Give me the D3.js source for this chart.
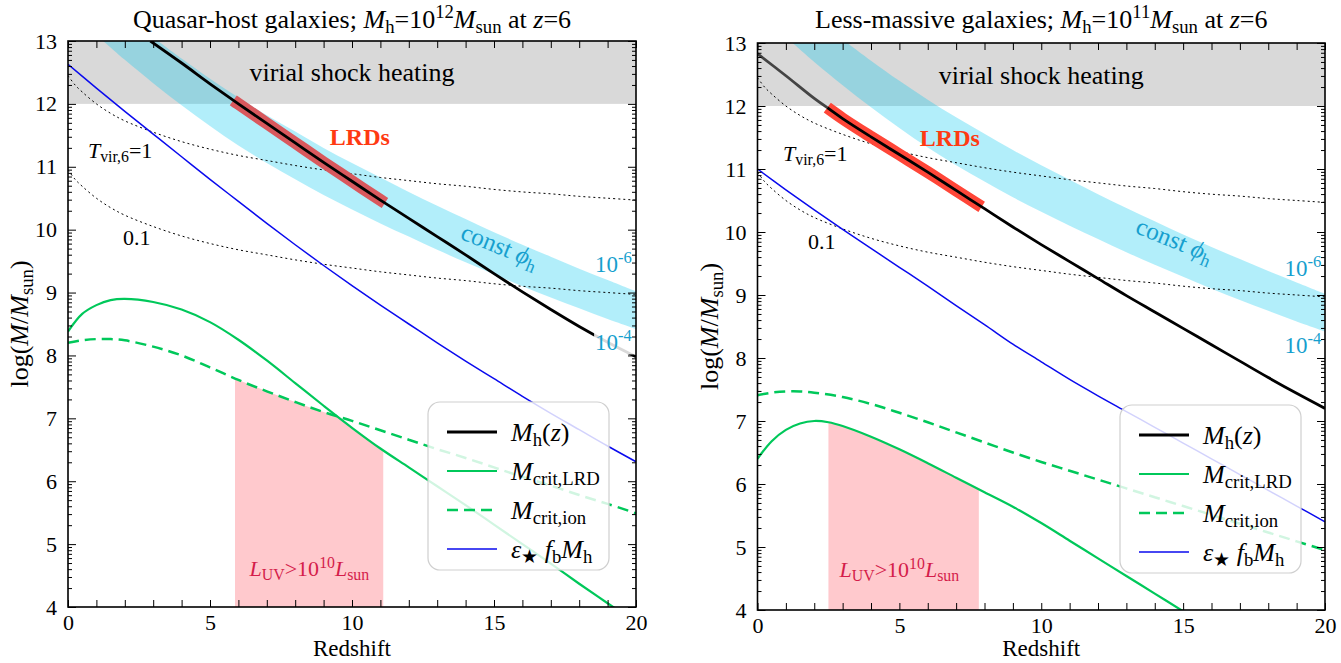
<!DOCTYPE html>
<html>
<head>
<meta charset="utf-8">
<script src="https://cdn.jsdelivr.net/npm/d3@7"></script>
<style>
  body { margin: 0; background: #fff; }
  svg { display: block; }
  text { font-family: "Liberation Serif", "Times New Roman", serif; }
</style>
</head>
<body>
<svg id="fig" width="1341" height="663"></svg>
<script>
// ---- data (z, log M) ----
// shared curves
const tvir1 = [[0,12.45],[0.25,12.3],[0.5,12.19],[1,12.0],[1.5,11.85],[2,11.73],[3,11.55],[4,11.4],[5,11.28],[6,11.18],[7,11.1],[8,11.02],[9,10.95],[10,10.89],[11,10.83],[12,10.78],[13,10.73],[14,10.69],[15,10.64],[16,10.6],[17,10.57],[18,10.53],[19,10.5],[20,10.47]];
const tvir01 = [[0,10.95],[0.25,10.8],[0.5,10.69],[1,10.5],[1.5,10.35],[2,10.23],[3,10.05],[4,9.9],[5,9.78],[6,9.68],[7,9.6],[8,9.52],[9,9.45],[10,9.39],[11,9.33],[12,9.28],[13,9.23],[14,9.19],[15,9.14],[16,9.1],[17,9.07],[18,9.03],[19,9.0],[20,8.97]];
const phiUpper = [[3.17,13.0],[4,12.72],[5,12.4],[6,12.1],[7,11.82],[8,11.56],[9,11.3],[10,11.06],[11,10.83],[12,10.6],[13,10.38],[14,10.17],[15,9.96],[16,9.76],[17,9.57],[18,9.38],[19,9.2],[20,9.02]];
const phiLower = [[1.24,13.0],[2,12.7],[3,12.33],[4,11.98],[5,11.65],[6,11.34],[7,11.06],[8,10.8],[9,10.55],[10,10.32],[11,10.1],[12,9.89],[13,9.68],[14,9.48],[15,9.29],[16,9.1],[17,8.92],[18,8.75],[19,8.58],[20,8.42]];

// quasar hosts, Mh = 1e12 at z = 6
const qsoHalo = [[2.9,13.0],[4,12.65],[5,12.32],[6,12.0],[7,11.69],[8,11.38],[9,11.07],[10,10.77],[11,10.47],[12,10.18],[13,9.89],[14,9.6],[15,9.3],[16,9.01],[17,8.73],[18,8.46],[19,8.21],[20,7.98]];
const qsoStar = [[0,12.63],[1,12.25],[2,11.88],[3,11.52],[4,11.16],[5,10.8],[6,10.45],[7,10.1],[8,9.76],[9,9.43],[10,9.11],[11,8.8],[12,8.5],[13,8.2],[14,7.91],[15,7.63],[16,7.35],[17,7.08],[18,6.82],[19,6.56],[20,6.31]];
const qsoCritLRD = [[0,8.38],[0.5,8.66],[1,8.8],[1.5,8.88],[2,8.9],[3,8.85],[4,8.73],[5,8.53],[6,8.25],[7,7.92],[8,7.56],[9,7.2],[10,6.85],[11,6.52],[12,6.22],[13,5.92],[14,5.62],[15,5.31],[16,5.0],[17,4.69],[18,4.37],[19,4.06],[20,3.75]];
const qsoCritIon = [[0,8.2],[0.5,8.24],[1,8.26],[1.5,8.26],[2,8.24],[3,8.14],[4,8.0],[5,7.81],[6,7.61],[7,7.43],[8,7.26],[9,7.1],[10,6.96],[11,6.81],[12,6.66],[13,6.51],[14,6.37],[15,6.22],[16,6.07],[17,5.93],[18,5.78],[19,5.64],[20,5.49]];
const qsoLRDRange = [5.82, 11.16];
const qsoBrightRange = [5.88, 11.1];

// less-massive galaxies, Mh = 1e11 at z = 6
const lowHalo = [[0,12.83],[1,12.48],[2,12.12],[3,11.8],[4,11.51],[5,11.23],[6,10.95],[7,10.66],[8,10.37],[9,10.08],[10,9.8],[11,9.53],[12,9.26],[13,8.99],[14,8.73],[15,8.47],[16,8.21],[17,7.95],[18,7.69],[19,7.44],[20,7.2]];
const lowStar = [[0,11.0],[1,10.67],[2,10.35],[3,10.04],[4,9.74],[5,9.44],[6,9.14],[7,8.83],[8,8.53],[9,8.22],[10,7.94],[11,7.66],[12,7.4],[13,7.15],[14,6.9],[15,6.65],[16,6.4],[17,6.15],[18,5.9],[19,5.65],[20,5.4]];
const lowCritLRD = [[0,6.4],[0.5,6.68],[1,6.86],[1.5,6.96],[2,7.0],[2.5,6.98],[3,6.92],[4,6.75],[5,6.55],[6,6.33],[7,6.1],[8,5.87],[9,5.64],[10,5.38],[11,5.1],[12,4.82],[13,4.54],[14,4.26],[15,3.98]];
const lowCritIon = [[0,7.41],[0.5,7.45],[1,7.47],[1.5,7.47],[2,7.45],[3,7.38],[4,7.27],[5,7.13],[6,6.98],[7,6.82],[8,6.66],[9,6.5],[10,6.35],[11,6.21],[12,6.07],[13,5.93],[14,5.79],[15,5.65],[16,5.51],[17,5.37],[18,5.23],[19,5.09],[20,4.95]];
const lowLRDRange = [2.46, 7.9];
const lowBrightRange = [2.5, 7.8];

const xTicks = d3.range(0, 21);
const yTicks = d3.range(4, 14);

const colors = {
  shock: '#d9d9d9', phi: '#00c8f0', phiText: '#169fce', pink: '#ffc9cd',
  pinkText: '#d41c4a', green: '#00c85a', blue: '#0a0aee', lrdText: '#ff3a12'
};

const svg = d3.select('#fig');
const defs = svg.append('defs');

// text with italic / sub / sup pieces: [str, kind]  kind: i, _, ^, i_
function rich(sel, parts, size) {
  parts.forEach(p => {
    const [str, kind] = typeof p === 'string' ? [p, ''] : p;
    const t = sel.append('tspan').text(str);
    if (kind.includes('i')) t.attr('font-style', 'italic');
    if (kind.includes('_')) t.attr('font-size', size * 0.72).attr('baseline-shift', -size * 0.2);
    if (kind.includes('^')) t.attr('font-size', size * 0.72).attr('baseline-shift', size * 0.38);
  });
  return sel;
}

function interp(series, z) {
  for (let i = 0; i < series.length - 1; i++) {
    const [z0, v0] = series[i], [z1, v1] = series[i + 1];
    if (z >= z0 && z <= z1) return v0 + (v1 - v0) * (z - z0) / (z1 - z0);
  }
  return series[series.length - 1][1];
}

function slice(series, z0, z1) {
  return [[z0, interp(series, z0)], ...series.filter(d => d[0] > z0 && d[0] < z1), [z1, interp(series, z1)]];
}

function drawPanel(p) {
  const x = d3.scaleLinear().domain([0, 20]).range([p.left, p.right]);
  const y = d3.scaleLinear().domain([4, 13]).range([p.bottom, p.top]);
  const line = d3.line().x(d => x(d[0])).y(d => y(d[1])).curve(d3.curveCatmullRom);
  const under = s => line(s) + `L${x(s[s.length - 1][0])},${p.bottom + 5}L${x(s[0][0])},${p.bottom + 5}Z`;

  defs.append('clipPath').attr('id', 'clip-' + p.id).append('rect')
    .attr('x', p.left).attr('y', p.top).attr('width', p.right - p.left).attr('height', p.bottom - p.top);
  defs.append('clipPath').attr('id', 'ion-' + p.id).append('path').attr('d', under(p.critIon));
  defs.append('clipPath').attr('id', 'lrd-' + p.id).append('path').attr('d', under(p.critLRD));

  const g = svg.append('g');
  const plot = g.append('g').attr('clip-path', `url(#clip-${p.id})`);

  // virial shock heating region
  plot.append('rect')
    .attr('x', x(0)).attr('y', y(13)).attr('width', x(20) - x(0)).attr('height', y(12) - y(13))
    .attr('fill', colors.shock);

  // const phi_h band
  plot.append('path')
    .attr('d', line(phiUpper) + 'L' + line(phiLower.slice().reverse()).slice(1) + 'Z')
    .attr('fill', colors.phi).attr('fill-opacity', 0.3);

  // L_UV > 1e10 region, below both critical masses
  plot.append('g').attr('clip-path', `url(#ion-${p.id})`)
    .append('g').attr('clip-path', `url(#lrd-${p.id})`)
    .append('rect')
    .attr('x', x(p.bright[0])).attr('y', p.top)
    .attr('width', x(p.bright[1]) - x(p.bright[0])).attr('height', p.bottom - p.top)
    .attr('fill', colors.pink);

  // virial temperature curves
  [tvir1, tvir01].forEach(s => {
    plot.append('path').attr('d', line(s)).attr('fill', 'none')
      .attr('stroke', '#000').attr('stroke-width', 1).attr('stroke-dasharray', '2,3');
  });

  plot.append('path').attr('d', line(p.star)).attr('fill', 'none')
    .attr('stroke', colors.blue).attr('stroke-width', 1.5);
  plot.append('path').attr('d', line(p.critIon)).attr('fill', 'none')
    .attr('stroke', colors.green).attr('stroke-width', 2.5).attr('stroke-dasharray', '11,6');
  plot.append('path').attr('d', line(p.critLRD)).attr('fill', 'none')
    .attr('stroke', colors.green).attr('stroke-width', 2.2);

  // LRD segment on the halo track
  plot.append('path').attr('d', line(slice(p.halo, p.lrd[0], p.lrd[1]))).attr('fill', 'none')
    .attr('stroke', p.lrdColor).attr('stroke-width', 12);

  // halo mass history
  const first = p.halo[0][0];
  if (p.fadeTo) {
    plot.append('path').attr('d', line(slice(p.halo, first, p.fadeTo))).attr('fill', 'none')
      .attr('stroke', '#444').attr('stroke-width', 2.8);
    plot.append('path').attr('d', line(slice(p.halo, p.fadeTo, 20))).attr('fill', 'none')
      .attr('stroke', '#000').attr('stroke-width', 2.8);
  } else {
    plot.append('path').attr('d', line(p.halo)).attr('fill', 'none')
      .attr('stroke', '#000').attr('stroke-width', 2.8);
  }

  // labels
  g.append('text').attr('x', x(10)).attr('y', y(12.5) + 9).attr('text-anchor', 'middle')
    .attr('font-size', 26).text('virial shock heating');
  g.append('text').attr('x', x(p.lrdLabel[0])).attr('y', y(p.lrdLabel[1]))
    .attr('font-size', 24).attr('font-weight', 'bold').attr('fill', colors.lrdText).text('LRDs');
  rich(g.append('text').attr('x', x(p.tLabel[0])).attr('y', y(p.tLabel[1])).attr('font-size', 22),
    [['T', 'i'], ['vir,6', '_'], '=1'], 22);
  g.append('text').attr('x', x(p.tLabel2[0])).attr('y', y(p.tLabel2[1])).attr('font-size', 22).text('0.1');
  rich(g.append('text')
    .attr('transform', `translate(${x(p.phiLabel[0])},${y(p.phiLabel[1])}) rotate(22)`)
    .attr('text-anchor', 'middle').attr('font-size', 25).attr('fill', colors.phiText),
    ['const ', ['ϕ', 'i'], ['h', '_']], 25);
  rich(g.append('text').attr('x', x(p.upLabel[0])).attr('y', y(p.upLabel[1]))
    .attr('font-size', 23).attr('fill', colors.phiText), ['10', ['-6', '^']], 23);
  g.append('rect').attr('x', x(p.loLabel[0]) - 1).attr('y', y(p.loLabel[1]) - 19)
    .attr('width', x(20) - x(p.loLabel[0])).attr('height', 23)
    .attr('fill', '#fff').attr('fill-opacity', 0.85);
  rich(g.append('text').attr('x', x(p.loLabel[0])).attr('y', y(p.loLabel[1]))
    .attr('font-size', 23).attr('fill', colors.phiText), ['10', ['-4', '^']], 23);
  rich(g.append('text').attr('x', x(p.pinkLabel[0])).attr('y', y(p.pinkLabel[1]))
    .attr('text-anchor', 'middle').attr('font-size', 22).attr('fill', colors.pinkText),
    [['L', 'i'], ['UV', '_'], '>10', ['10', '^'], ['L', 'i'], ['sun', '_']], 22);

  // legend
  const lg = g.append('g').attr('transform', `translate(${p.legend[0]},${p.legend[1]})`);
  lg.append('rect').attr('width', 181).attr('height', 168).attr('rx', 12)
    .attr('fill', '#fff').attr('fill-opacity', 0.82).attr('stroke', '#cfcfcf').attr('stroke-width', 1.2);
  const entries = [
    { parts: [['M', 'i'], ['h', '_'], '(', ['z', 'i'], ')'], stroke: '#000', w: 2.8, dash: null },
    { parts: [['M', 'i'], ['crit,LRD', '_']], stroke: colors.green, w: 2.2, dash: null },
    { parts: [['M', 'i'], ['crit,ion', '_']], stroke: colors.green, w: 2.5, dash: '11,6' },
    { parts: [['ε', 'i'], ['★', '_'], ' ', ['f', 'i'], ['b', '_'], ['M', 'i'], ['h', '_']], stroke: colors.blue, w: 1.5, dash: null }
  ];
  entries.forEach((e, i) => {
    const cy = 30 + i * 39;
    lg.append('line').attr('x1', 19).attr('x2', 69).attr('y1', cy).attr('y2', cy)
      .attr('stroke', e.stroke).attr('stroke-width', e.w).attr('stroke-dasharray', e.dash);
    rich(lg.append('text').attr('x', 83).attr('y', cy + 9).attr('font-size', 26), e.parts, 26);
  });

  // axes
  const minor = [];
  for (let n = 4; n < 13; n++) for (let k = 2; k < 10; k++) minor.push(n + Math.log10(k));
  const styleAxis = a => {
    a.select('.domain').remove();
    a.selectAll('line').attr('stroke', '#000').attr('stroke-width', 1);
    a.selectAll('text').attr('font-family', '"Liberation Serif", serif').attr('font-size', 22).attr('fill', '#000');
  };
  g.append('g').attr('transform', `translate(0,${p.bottom})`)
    .call(d3.axisBottom(x).tickValues(xTicks).tickSize(-7).tickPadding(7).tickFormat(d => d % 5 === 0 ? d : ''))
    .call(styleAxis);
  g.append('g').attr('transform', `translate(0,${p.top})`)
    .call(d3.axisTop(x).tickValues(xTicks).tickSize(-7).tickFormat('')).call(styleAxis);
  g.append('g').attr('transform', `translate(${p.left},0)`)
    .call(d3.axisLeft(y).tickValues(yTicks).tickSize(-8).tickPadding(11)).call(styleAxis);
  g.append('g').attr('transform', `translate(${p.left},0)`)
    .call(d3.axisLeft(y).tickValues(minor).tickSize(-4).tickFormat('')).call(styleAxis);
  g.append('g').attr('transform', `translate(${p.right},0)`)
    .call(d3.axisRight(y).tickValues(yTicks).tickSize(-8).tickFormat('')).call(styleAxis);
  g.append('g').attr('transform', `translate(${p.right},0)`)
    .call(d3.axisRight(y).tickValues(minor).tickSize(-4).tickFormat('')).call(styleAxis);
  g.append('rect').attr('x', p.left).attr('y', p.top).attr('width', p.right - p.left).attr('height', p.bottom - p.top)
    .attr('fill', 'none').attr('stroke', '#000').attr('stroke-width', 1.6);

  // titles
  rich(g.append('text').attr('x', (p.left + p.right) / 2).attr('y', 28).attr('text-anchor', 'middle').attr('font-size', 26),
    p.title, 26);
  g.append('text').attr('x', (p.left + p.right) / 2).attr('y', 656).attr('text-anchor', 'middle')
    .attr('font-size', 23).text('Redshift');
  rich(g.append('text').attr('transform', `translate(${p.left - 40},${(p.top + p.bottom) / 2}) rotate(-90)`)
    .attr('text-anchor', 'middle').attr('font-size', 26),
    ['log(', ['M', 'i'], '/', ['M', 'i'], ['sun', '_'], ')'], 26);
}

drawPanel({
  id: 'qso', left: 68, right: 636, top: 41, bottom: 607,
  halo: qsoHalo, star: qsoStar, critLRD: qsoCritLRD, critIon: qsoCritIon,
  lrd: qsoLRDRange, bright: qsoBrightRange, lrdColor: '#d9585d', fadeTo: null,
  title: ['Quasar-host galaxies; ', ['M', 'i'], ['h', '_'], '=10', ['12', '^'], ['M', 'i'], ['sun', '_'], ' at ', ['z', 'i'], '=6'],
  lrdLabel: [9.22, 11.35], tLabel: [0.7, 11.14], tLabel2: [1.94, 9.76], phiLabel: [15.1, 9.62],
  upLabel: [18.56, 9.33], loLabel: [18.56, 8.08], pinkLabel: [8.5, 4.49], legend: [428, 402]
});

drawPanel({
  id: 'low', left: 757.5, right: 1325, top: 43, bottom: 610,
  halo: lowHalo, star: lowStar, critLRD: lowCritLRD, critIon: lowCritIon,
  lrd: lowLRDRange, bright: lowBrightRange, lrdColor: '#ff4638', fadeTo: 2.46,
  title: ['Less-massive galaxies; ', ['M', 'i'], ['h', '_'], '=10', ['11', '^'], ['M', 'i'], ['sun', '_'], ' at ', ['z', 'i'], '=6'],
  lrdLabel: [5.72, 11.37], tLabel: [0.9, 11.13], tLabel2: [1.78, 9.73], phiLabel: [14.6, 9.75],
  upLabel: [18.57, 9.3], loLabel: [18.57, 8.08], pinkLabel: [5.0, 4.52], legend: [1120, 405]
});
</script>
</body>
</html>
